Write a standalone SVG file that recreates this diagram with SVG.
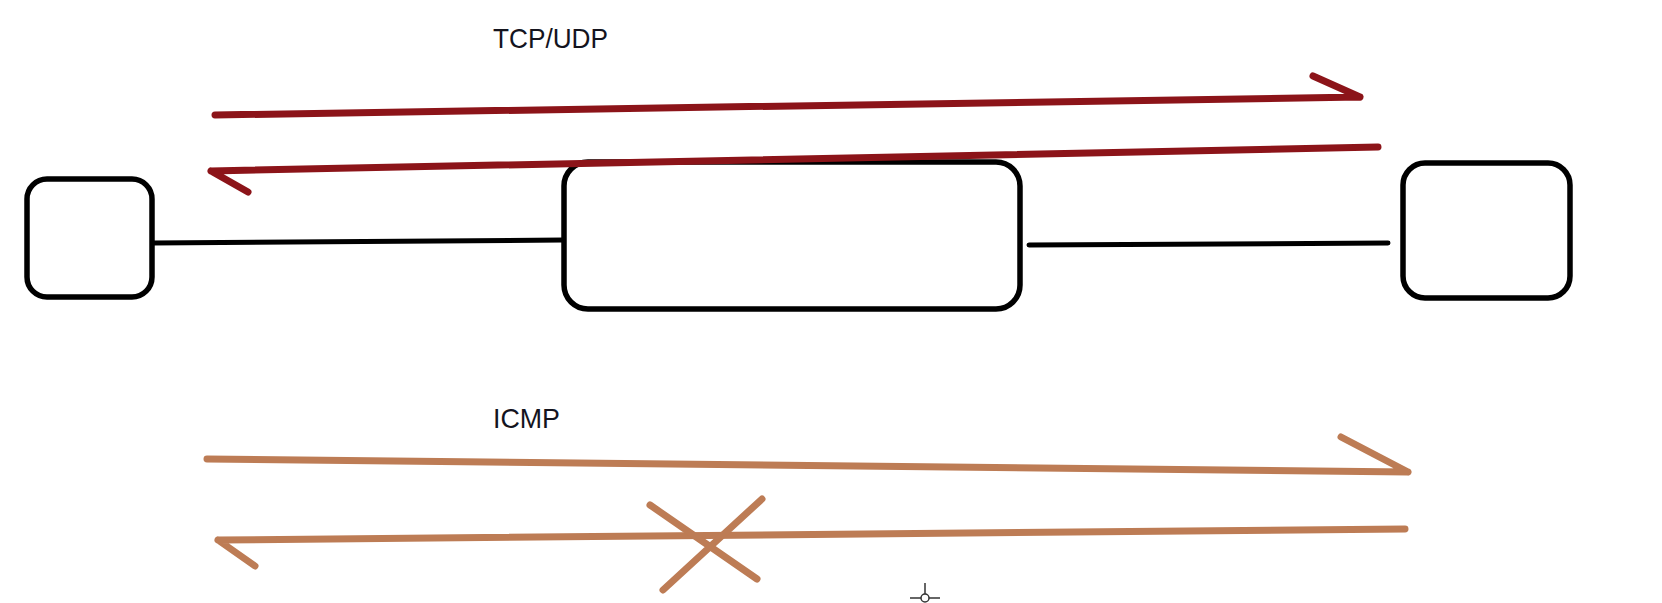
<svg xmlns="http://www.w3.org/2000/svg" width="1662" height="603" viewBox="0 0 1662 603">
  <style>
    .box { fill: none; stroke: #000; stroke-width: 5.5; }
    .link { fill: none; stroke: #000; stroke-width: 5; stroke-linecap: round; }
    .red { fill: none; stroke: #8c1419; stroke-width: 7; stroke-linecap: round; stroke-linejoin: round; }
    .tan { fill: none; stroke: #bd7c55; stroke-width: 7; stroke-linecap: round; stroke-linejoin: round; }
    .label { font-family: "Liberation Sans", Arial, sans-serif; font-size: 28px; fill: #14141e; }
  </style>
  <rect width="1662" height="603" fill="#fff"/>
  <g id="node-left">
    <rect class="box" x="27" y="179" width="125" height="118" rx="20" ry="20"/>
  </g>
  <g id="node-middle">
    <rect class="box" x="564" y="162" width="456" height="147" rx="24" ry="24"/>
  </g>
  <g id="node-right">
    <rect class="box" x="1403" y="163" width="167" height="135" rx="22" ry="22"/>
  </g>
  <g id="connectors">
    <line class="link" x1="153" y1="243" x2="563" y2="240"/>
    <line class="link" x1="1029" y1="245" x2="1388" y2="243"/>
    <path class="red" d="M215,115 L1360,97 M1313,76 L1360,97"/>
    <path class="red" d="M1378,147 L211,171 M211,171 L248,192"/>
    <path class="tan" d="M207,459 L1408,472 M1341,437 L1408,472"/>
    <path class="tan" d="M1405,529 L218,540 M218,540 L255,566"/>
    <path class="tan" d="M650,505 L757,579 M762,499 L663,590"/>
  </g>
  <g id="labels">
    <text class="label" x="493" y="48" textLength="115" lengthAdjust="spacingAndGlyphs">TCP/UDP</text>
    <text class="label" x="493" y="428" textLength="67" lengthAdjust="spacingAndGlyphs">ICMP</text>
  </g>
  <g id="cursor" fill="none" stroke="#333" stroke-width="1.5">
    <line x1="925" y1="583" x2="925" y2="594"/>
    <line x1="910" y1="598" x2="921" y2="598"/>
    <line x1="929" y1="598" x2="940" y2="598"/>
    <circle cx="925" cy="598" r="4"/>
  </g>
</svg>
